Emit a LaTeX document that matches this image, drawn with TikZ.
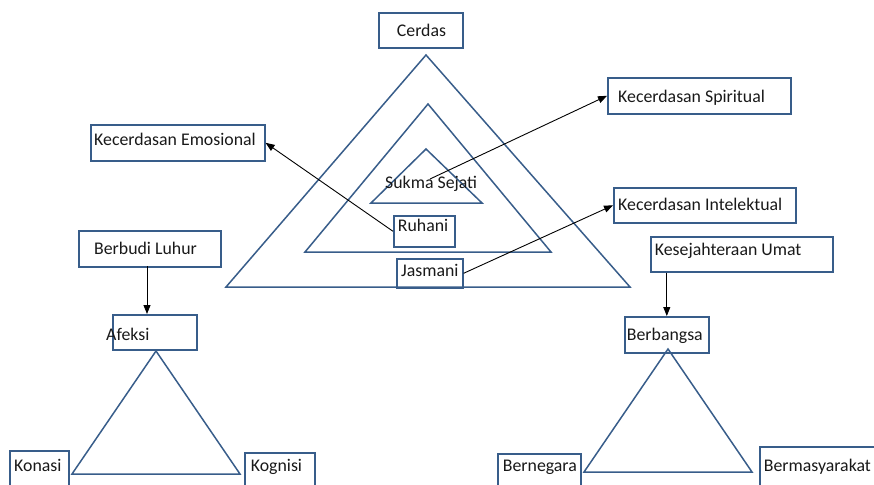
\documentclass[tikz,border=0pt]{standalone}
\usepackage{fontspec}
\setmainfont{Carlito}
\usetikzlibrary{arrows.meta}
\definecolor{blueline}{RGB}{56,93,138}
\definecolor{txtc}{RGB}{25,25,25}
\begin{document}
\begin{tikzpicture}[x=1pt,y=-1pt,
  box/.style={draw=blueline, line width=1.6pt, inner sep=0pt, anchor=north west},
  lbl/.style={anchor=base west, inner sep=0pt, text=txtc, font=\fontsize{17.8}{20}\selectfont},
  tri/.style={draw=blueline, line width=1.5pt, line join=miter},
  arr/.style={draw=black, line width=0.9pt, -{Triangle[length=9pt,width=7pt]}}]
\useasboundingbox (0,0) rectangle (874,484);
% triangles
\draw[tri] (426,55) -- (226,287) -- (630,287) -- cycle;
\draw[tri] (428,104) -- (305,252) -- (551,252) -- cycle;
\draw[tri] (426,149) -- (371,203) -- (482,203) -- cycle;
\draw[tri] (156,351) -- (72,474) -- (240,474) -- cycle;
\draw[tri] (668,349) -- (584,472) -- (752,472) -- cycle;
% boxes
\node[box, minimum width=84pt, minimum height=35pt] (cerdas) at (378,12) {};
\node[box, minimum width=174pt, minimum height=36pt] (emo) at (90,124) {};
\node[box, minimum width=183pt, minimum height=36pt] (spirit) at (607,77) {};
\node[box, minimum width=182pt, minimum height=35pt] (intel) at (613,187) {};
\node[box, minimum width=61pt, minimum height=31pt] (ruhani) at (393,215) {};
\node[box, minimum width=66pt, minimum height=29pt] (jasmani) at (396,258) {};
\node[box, minimum width=142pt, minimum height=36pt] (berbudi) at (78,230) {};
\node[box, minimum width=84pt, minimum height=35pt] (afeksi) at (112,314) {};
\node[box, minimum width=59pt, minimum height=45pt] (konasi) at (9,450) {};
\node[box, minimum width=70pt, minimum height=43pt] (kognisi) at (244,452) {};
\node[box, minimum width=182pt, minimum height=35pt] (kesej) at (650,236) {};
\node[box, minimum width=84pt, minimum height=36pt] (berbangsa) at (624,316) {};
\node[box, minimum width=83pt, minimum height=42pt] (bernegara) at (497,453) {};
\node[box, minimum width=121pt, minimum height=49pt] (bermas) at (759,446) {};
% labels
\node[lbl] (tcerdas) at (396.7,37) {Cerdas};
\node[lbl] (temo) at (94,145) {Kecerdasan Emosional};
\node[lbl] (tspirit) at (618,102.7) {Kecerdasan Spiritual};
\node[lbl] (tintel) at (618,210.7) {Kecerdasan Intelektual};
\node[lbl] (tsukma) at (385,188.3) {Sukma Sejati};
\node[lbl] (truhani) at (397.7,231.7) {Ruhani};
\node[lbl] (tjasmani) at (401,276) {Jasmani};
\node[lbl] (tberbudi) at (94,254.3) {Berbudi Luhur};
\node[lbl] (tafeksi) at (106,340) {Afeksi};
\node[lbl] (tkonasi) at (14,471.7) {Konasi};
\node[lbl] (tkognisi) at (250.7,471.7) {Kognisi};
\node[lbl] (tkesej) at (654.7,255) {Kesejahteraan Umat};
\node[lbl] (tberbangsa) at (626.7,340) {Berbangsa};
\node[lbl] (tbernegara) at (502.7,471.7) {Bernegara};
\node[lbl] (tbermas) at (763.7,471.7) {Bermasyarakat};
% connectors
\coordinate (sp) at (430,179);
\draw[arr] (ruhani.west) -- (emo.east);
\draw[arr] (sp) -- (spirit.west);
\draw[arr] (jasmani.east) -- (intel.west);
\coordinate (bl) at (147,266);
\draw[arr] (bl) -- (bl |- afeksi.north);
\draw[arr] (berbangsa.north |- kesej.south) -- (berbangsa.north);
\end{tikzpicture}
\end{document}
